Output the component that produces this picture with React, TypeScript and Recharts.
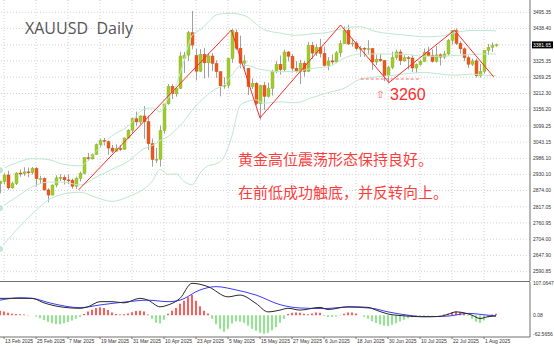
import React from 'react';
import { ComposedChart, Bar, Line, XAxis, YAxis, CartesianGrid, ReferenceLine, Cell } from 'recharts';

// ---------- tick labels ----------
const dateLabels = [
  '13 Feb 2025', '25 Feb 2025', '7 Mar 2025', '19 Mar 2025', '31 Mar 2025', '10 Apr 2025',
  '23 Apr 2025', '5 May 2025', '15 May 2025', '27 May 2025', '6 Jun 2025', '18 Jun 2025',
  '30 Jun 2025', '10 Jul 2025', '22 Jul 2025', '1 Aug 2025',
];
const dateLabelFirstBar = 1;
const dateLabelStep = 8;
const priceTicks = [
  3495.35, 3438.4, 3381.65, 3325.35, 3269.25, 3212.3, 3156.2, 3099.25, 3043.15,
  2986.1, 2930.1, 2874.0, 2817.05, 2760.95, 2704.0, 2647.9, 2590.85,
];
const currentPrice = 3381.65;
const macdTicks = [107.0647, 0.08, -62.5656];
const macdTickText = ['107.0647', '0.08', '-62.5656'];

// ---------- daily candles (12 Feb 2025 .. 6 Aug 2025) ----------
const opens = [
  2898, 2905, 2928, 2883, 2898, 2935, 2933, 2939, 2936, 2951, 2915, 2916, 2876, 2858, 2893, 2918, 2920, 2911, 2910, 2889,
  2916, 2934, 2988, 2984, 3000, 3034, 3048, 3044, 3022, 3011, 3020, 3018, 3057, 3084, 3124, 3113, 3134, 3114, 3037, 2982,
  2983, 3083, 3176, 3237, 3211, 3230, 3334, 3346, 3424, 3345, 3290, 3349, 3319, 3343, 3317, 3288, 3239, 3241, 3334, 3425,
  3370, 3318, 3300, 3236, 3248, 3177, 3240, 3202, 3230, 3290, 3314, 3295, 3357, 3342, 3300, 3288, 3318, 3289, 3380, 3353,
  3373, 3352, 3310, 3326, 3322, 3354, 3386, 3433, 3385, 3388, 3369, 3370, 3368, 3369, 3322, 3332, 3327, 3274, 3303, 3338,
  3357, 3326, 3337, 3336, 3301, 3313, 3324, 3355, 3344, 3324, 3347, 3339, 3350, 3397, 3431, 3387, 3368, 3337, 3314, 3326,
  3274, 3289, 3363, 3373, 3380,
];
const highs = [
  2908, 2935, 2943, 2905, 2938, 2947, 2955, 2954, 2956, 2956, 2925, 2920, 2882, 2895, 2927, 2930, 2927, 2930, 2915, 2922,
  2940, 2990, 3005, 3003, 3038, 3055, 3057, 3048, 3033, 3035, 3032, 3059, 3087, 3128, 3149, 3136, 3168, 3136, 3055, 3022,
  3100, 3176, 3245, 3245, 3230, 3357, 3357, 3430, 3500, 3368, 3367, 3371, 3352, 3353, 3328, 3290, 3269, 3337, 3437, 3435,
  3414, 3346, 3302, 3265, 3252, 3241, 3253, 3250, 3295, 3325, 3345, 3365, 3360, 3350, 3325, 3330, 3326, 3392, 3392, 3385,
  3403, 3375, 3339, 3349, 3360, 3397, 3446, 3452, 3403, 3395, 3378, 3374, 3398, 3370, 3347, 3350, 3329, 3309, 3358, 3365,
  3366, 3345, 3343, 3346, 3317, 3330, 3369, 3375, 3366, 3377, 3352, 3361, 3402, 3433, 3439, 3394, 3373, 3345, 3334, 3334,
  3315, 3363, 3385, 3390, 3386,
];
const lows = [
  2864, 2895, 2876, 2880, 2893, 2922, 2925, 2920, 2930, 2888, 2900, 2873, 2833, 2857, 2885, 2907, 2895, 2896, 2880, 2880,
  2905, 2930, 2978, 2982, 2998, 3024, 3031, 2999, 3004, 3010, 3012, 3015, 3055, 3076, 3100, 3105, 3054, 3015, 2957, 2970,
  2957, 3072, 3173, 3193, 3201, 3228, 3284, 3326, 3366, 3258, 3287, 3265, 3268, 3290, 3267, 3202, 3229, 3230, 3319, 3364,
  3300, 3297, 3207, 3228, 3171, 3121, 3155, 3198, 3205, 3283, 3278, 3287, 3324, 3286, 3285, 3245, 3271, 3287, 3333, 3343,
  3338, 3306, 3293, 3313, 3318, 3340, 3385, 3381, 3375, 3362, 3340, 3340, 3347, 3295, 3311, 3322, 3255, 3247, 3297, 3330,
  3311, 3323, 3296, 3287, 3283, 3309, 3322, 3341, 3320, 3320, 3310, 3332, 3344, 3383, 3381, 3351, 3325, 3301, 3308, 3268,
  3268, 3281, 3346, 3357, 3375,
];
const closes = [
  2905, 2928, 2883, 2898, 2935, 2933, 2939, 2936, 2951, 2915, 2916, 2876, 2858, 2893, 2918, 2920, 2911, 2910, 2889, 2916,
  2934, 2988, 2984, 3000, 3034, 3048, 3044, 3022, 3011, 3020, 3018, 3057, 3084, 3124, 3113, 3134, 3114, 3037, 2982, 2983,
  3083, 3176, 3237, 3211, 3230, 3343, 3346, 3424, 3381, 3290, 3349, 3319, 3343, 3317, 3288, 3239, 3241, 3334, 3431, 3370,
  3318, 3326, 3236, 3248, 3177, 3240, 3202, 3230, 3290, 3314, 3295, 3357, 3342, 3300, 3288, 3318, 3289, 3380, 3353, 3373,
  3352, 3310, 3326, 3322, 3354, 3386, 3433, 3385, 3388, 3369, 3370, 3368, 3369, 3322, 3332, 3327, 3274, 3303, 3338, 3357,
  3326, 3337, 3336, 3301, 3313, 3324, 3355, 3344, 3324, 3347, 3339, 3350, 3397, 3431, 3387, 3368, 3337, 3314, 3326, 3274,
  3289, 3363, 3373, 3380, 3382,
];

// ---------- Bollinger bands, read at sampled bars ----------
const bbIdx = [0, 4, 8, 12, 16, 20, 24, 28, 32, 36, 38, 40, 42, 44, 46, 48, 50, 52, 54, 56, 58, 60, 62, 64, 66, 70, 74, 78, 82, 86, 90, 94, 98, 102, 106, 110, 114, 118, 122, 124];
const bbUpper = [2945, 2970, 2985, 2982, 2965, 2960, 3010, 3065, 3098, 3158, 3162, 3148, 3195, 3241, 3326, 3414, 3434, 3460, 3486, 3491, 3492, 3488, 3478, 3455, 3435, 3423, 3415, 3420, 3425, 3440, 3445, 3428, 3420, 3415, 3410, 3412, 3425, 3432, 3432, 3430];
const bbMid = [2813, 2850, 2886, 2903, 2903, 2893, 2920, 2948, 2975, 3020, 3030, 3048, 3062, 3086, 3116, 3154, 3184, 3210, 3229, 3241, 3277, 3308, 3310, 3300, 3294, 3288, 3289, 3300, 3305, 3335, 3350, 3350, 3350, 3348, 3342, 3342, 3345, 3348, 3350, 3350];
const bbLower = [2670, 2735, 2792, 2840, 2862, 2868, 2850, 2836, 2852, 2880, 2905, 2948, 2930, 2932, 2906, 2894, 2934, 2960, 2967, 2991, 3065, 3170, 3185, 3190, 3178, 3183, 3180, 3198, 3215, 3230, 3262, 3270, 3275, 3282, 3286, 3280, 3276, 3280, 3275, 3275];

// ---------- MACD panel ----------
const histVals = [
  15, 12, 8, 5,
  4, 3, 2, 1, 0,
  -4, -10, -16, -22, -27, -30, -30, -27, -23, -18, -12, -6,
  4, 12, 18, 24, 26, 24, 17, 9,
  4, 2, 3, 6,
  10, 14, 15, 12,
  2,
  -12, -25, -28, -15,
  5, 15, 24, 38, 48, 60, 67,
  48, 30, 15, 6,
  -12, -30, -45, -55, -45, -28, -20, -22, -25,
  -35, -45, -52, -58, -62, -58, -50, -40,
  -25, -12,
  4, 8, 9, 8, 5, 3, 6, 9, 8,
  -3, -6, -6, -4, -2,
  5, 9, 9, 6,
  0,
  -5, -12, -20, -26, -31, -35, -36, -32, -27, -21, -15, -10, -7,
  -5, -4, -3,
  -2, -1, 0, 1, 2,
  5, 10, 12, 11, 7,
  -3, -12, -22, -26, -18, -7, 2, 5,
];
const macdIdx = [0, 5, 8, 11, 15, 20, 22, 25, 28, 31, 35, 37, 40, 42, 45, 48, 52, 57, 60, 64, 67, 70, 72, 75, 80, 82, 87, 92, 94, 97, 102, 105, 108, 110, 112, 114, 116, 118, 120, 122, 124];
const macdVals = [56, 56, 56, 41, 28, 23, 28, 45, 45, 41, 56, 50, 28, 34, 56, 106, 95, 61, 67, 39, 11, 17, 23, 17, 26, 19, 28, 26, 17, 4, -3, -5, -5, -4, 3, 11, 8, 0, -11, -5, -3];
const signalIdx = [0, 5, 8, 13, 20, 25, 32, 37, 42, 45, 50, 54, 59, 64, 70, 75, 81, 87, 93, 97, 102, 106, 112, 117, 122, 124];
const signalVals = [50, 58, 56, 39, 25, 34, 45, 50, 45, 50, 84, 95, 84, 67, 35, 24, 22, 27, 23, 11, 0, -5, -3, 6, 0, -2];

// ---------- analyst drawings ----------
const zigzagBar = [20, 57.9, 65, 85, 97, 113.25, 123];
const zigzagPrice = [2876, 3433.6, 3127, 3451, 3250, 3433, 3270];
const supportPrice = 3262.7;
const supportFromBar = 90;
const supportToBar = 104.5;

// ---------- build table ----------
const SLOTS = 133;
const labelIdx = dateLabels.map((_, k) => dateLabelFirstBar + k * dateLabelStep);
const rows: any[] = Array.from({ length: SLOTS }, (_, i) => {
  const r: any = { i };
  if (i < closes.length) {
    r.o = opens[i];
    r.h = highs[i];
    r.l = lows[i];
    r.c = closes[i];
    r.range = [lows[i], highs[i]];
    r.hist = histVals[i];
  }
  return r;
});
bbIdx.forEach((b, k) => {
  rows[b].bbU = bbUpper[k];
  rows[b].bbM = bbMid[k];
  rows[b].bbL = bbLower[k];
});
macdIdx.forEach((b, k) => { rows[b].macd = macdVals[k]; });
signalIdx.forEach((b, k) => { rows[b].signal = signalVals[k]; });

const AXIS_FONT = "'Liberation Sans', Arial, sans-serif";

const Candle = (props: any) => {
  const { x, y, width, height, payload } = props;
  if (!payload || payload.o == null || !Number.isFinite(y)) return null;
  const top = Math.min(y, y + height);
  const h = Math.abs(height);
  const { o, h: hi, l: lo, c } = payload;
  const pix = (p: number) => top + ((hi - p) / (hi - lo)) * h;
  const cx = Math.round(x + width / 2);
  const bull = c >= o;
  const yO = pix(o);
  const yC = pix(c);
  const bTop = Math.min(yO, yC);
  const bH = Math.max(Math.abs(yO - yC), 1);
  return (
    <g>
      <line x1={cx + 0.5} x2={cx + 0.5} y1={top} y2={top + h} stroke="#a0a0a0" strokeWidth={1} />
      <rect
        x={cx - 1}
        y={bTop}
        width={3}
        height={bH}
        fill={bull ? '#9fcb2c' : '#ea5a1c'}
        stroke={bull ? '#8bb224' : '#cf4a14'}
        strokeWidth={0.4}
      />
    </g>
  );
};

const PriceTick = (props: any) => {
  const { x, y, payload } = props;
  const v = payload.value;
  const isCur = Math.abs(v - currentPrice) < 0.001;
  return (
    <g>
      {isCur && <rect x={x - 1} y={y - 3.5} width={21} height={7} fill="#000" />}
      <text x={x} y={y} dy={1.8} fontSize={5} fontFamily={AXIS_FONT} fill={isCur ? '#fff' : '#333'} textAnchor="start">
        {v.toFixed(2)}
      </text>
    </g>
  );
};

const MacdTick = (props: any) => {
  const { x, y, payload } = props;
  const k = macdTicks.indexOf(payload.value);
  return (
    <text x={x} y={y} dy={1.8} fontSize={5} fontFamily={AXIS_FONT} fill="#333" textAnchor="start">
      {k >= 0 ? macdTickText[k] : ''}
    </text>
  );
};

const DateTick = (props: any) => {
  const { x, y, payload } = props;
  const k = labelIdx.indexOf(payload.value);
  return (
    <text x={x + 1} y={y + 3.6} fontSize={5} fontFamily={AXIS_FONT} fill="#333" textAnchor="start">
      {k >= 0 ? dateLabels[k] : ''}
    </text>
  );
};

export default function App() {
  const bandColor = '#bfe8d1';
  return (
    <div style={{ position: 'fixed', left: 0, top: 0, width: 554, height: 346, background: '#fff', overflow: 'hidden' }}>
      <div style={{ position: 'absolute', left: -2, top: 0 }}>
        <ComposedChart width={556} height={281} data={rows} margin={{ top: 0, right: 0, bottom: 0, left: 0 }}>
          <CartesianGrid
            xAxisId="cat"
            yAxisId="price"
            stroke="#d2d2d2"
            strokeDasharray="1 2"
            horizontalValues={priceTicks}
            verticalValues={labelIdx}
          />
          <XAxis xAxisId="cat" dataKey="i" type="category" hide ticks={labelIdx} interval={0} />
          <XAxis xAxisId="num" type="number" domain={[-0.5, SLOTS - 0.5]} allowDataOverflow hide />
          <YAxis
            yAxisId="price"
            orientation="right"
            width={24}
            domain={[2558.4, 3538.2]}
            allowDataOverflow
            ticks={priceTicks}
            interval={0}
            tickSize={2}
            tickMargin={1}
            tickLine={false}
            axisLine={{ stroke: '#707070' }}
            tick={<PriceTick />}
          />
          <Line xAxisId="cat" yAxisId="price" dataKey="bbU" type="monotone" connectNulls dot={false} stroke={bandColor} strokeWidth={1} isAnimationActive={false} />
          <Line xAxisId="cat" yAxisId="price" dataKey="bbM" type="monotone" connectNulls dot={false} stroke={bandColor} strokeWidth={1} isAnimationActive={false} />
          <Line xAxisId="cat" yAxisId="price" dataKey="bbL" type="monotone" connectNulls dot={false} stroke={bandColor} strokeWidth={1} isAnimationActive={false} />
          <Bar xAxisId="cat" yAxisId="price" dataKey="range" shape={Candle} isAnimationActive={false} />
          {zigzagBar.slice(1).map((b, k) => (
            <ReferenceLine
              key={'z' + k}
              xAxisId="num"
              yAxisId="price"
              segment={[
                { x: zigzagBar[k], y: zigzagPrice[k] },
                { x: b, y: zigzagPrice[k + 1] },
              ]}
              stroke="#ff2a2a"
              strokeWidth={1}
              ifOverflow="visible"
            />
          ))}
          <ReferenceLine
            xAxisId="num"
            yAxisId="price"
            segment={[
              { x: supportFromBar, y: supportPrice },
              { x: supportToBar, y: supportPrice },
            ]}
            stroke="#ff6a6a"
            strokeDasharray="3 2"
            strokeWidth={1}
            ifOverflow="visible"
          />
        </ComposedChart>
      </div>
      <div style={{ position: 'absolute', left: 0, top: 281, width: 530, height: 1, background: '#707070' }} />
      <div style={{ position: 'absolute', left: -2, top: 278 }}>
        <ComposedChart width={556} height={68} data={rows} margin={{ top: 4, right: 0, bottom: 0, left: 0 }}>
          <XAxis
            xAxisId="cat"
            dataKey="i"
            type="category"
            ticks={labelIdx}
            interval={0}
            height={9}
            tickSize={2}
            tickMargin={0}
            axisLine={{ stroke: '#707070' }}
            tickLine={{ stroke: '#707070' }}
            tick={<DateTick />}
          />
          <YAxis
            yAxisId="m"
            orientation="right"
            width={24}
            domain={[-72.54, 110.39]}
            allowDataOverflow
            ticks={macdTicks}
            interval={0}
            tickSize={2}
            tickMargin={1}
            tickLine={false}
            axisLine={{ stroke: '#707070' }}
            tick={<MacdTick />}
          />
          <Bar xAxisId="cat" yAxisId="m" dataKey="hist" barSize={2} isAnimationActive={false}>
            {rows.map((r, k) => (
              <Cell key={k} fill={r.hist >= 0 ? '#ff5c5c' : '#8fe68f'} />
            ))}
          </Bar>
          <Line xAxisId="cat" yAxisId="m" dataKey="signal" type="monotone" connectNulls dot={false} stroke="#3c3cff" strokeWidth={1} isAnimationActive={false} />
          <Line xAxisId="cat" yAxisId="m" dataKey="macd" type="monotone" connectNulls dot={false} stroke="#2a2a2a" strokeWidth={1} isAnimationActive={false} />
        </ComposedChart>
      </div>
      <svg width={554} height={346} style={{ position: 'absolute', left: 0, top: 0, pointerEvents: 'none' }}>
        <text x={25} y={34} fontSize={16} fill="#555" fontFamily="'Open Sans', 'DejaVu Sans', sans-serif" style={{ whiteSpace: 'pre' }}>
          XAUUSD  Daily
        </text>
        <text x={238} y={165} fontSize={15} fill="#ff3c3c" fontFamily="'Noto Sans CJK SC', sans-serif">
          黄金高位震荡形态保持良好。
        </text>
        <text x={238} y={198} fontSize={15} fill="#ff3c3c" fontFamily="'Noto Sans CJK SC', sans-serif">
          在前低成功触底，并反转向上。
        </text>
        <text x={376} y={98} fontSize={10} fill="#ff5a5a" fontFamily="'DejaVu Sans', sans-serif">
          ⇧
        </text>
        <text x={390} y={100} fontSize={16} fill="#ff2a2a" fontFamily={AXIS_FONT}>
          3260
        </text>
      </svg>
    </div>
  );
}
